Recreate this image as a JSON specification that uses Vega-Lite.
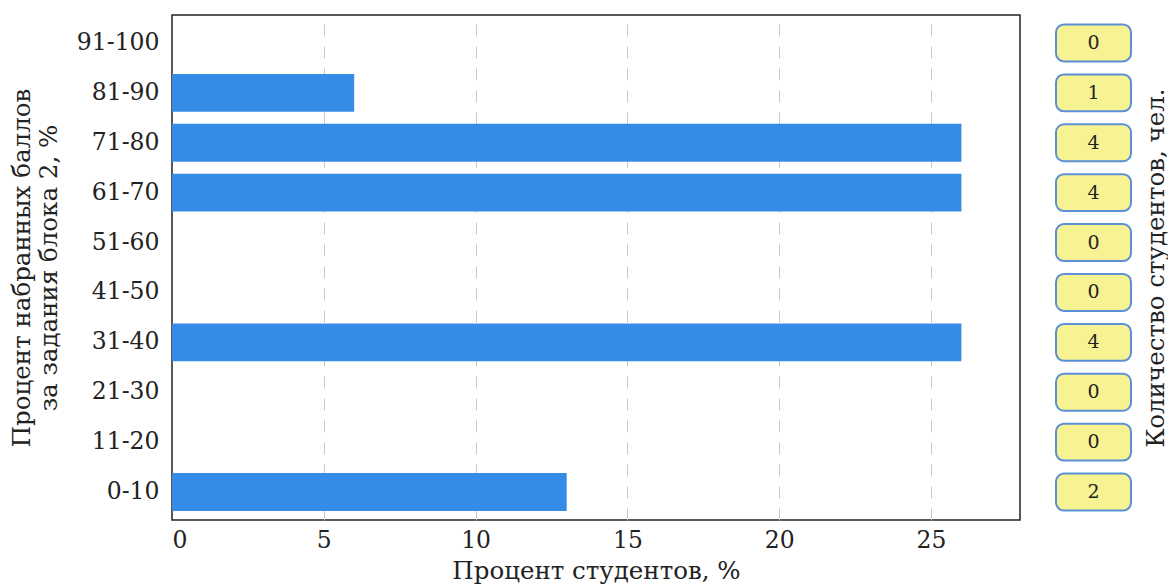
{
  "$schema": "https://vega.github.io/schema/vega-lite/v6.json",
  "autosize": {"type": "pad"},
  "padding": {"left": 8, "top": 14, "right": 0, "bottom": 0},
  "background": "white",
  "config": {
    "font": "DejaVu Serif",
    "view": {"stroke": null},
    "axis": {"labelFont": "DejaVu Serif", "titleFont": "DejaVu Serif", "labelFontSize": 23.5, "titleFontSize": 24.5, "labelColor": "#222", "titleColor": "#222", "titleFontWeight": "normal"}
  },
  "data": {
    "values": [
      {"range": "0-10", "pct": 13, "count": 2},
      {"range": "11-20", "pct": 0, "count": 0},
      {"range": "21-30", "pct": 0, "count": 0},
      {"range": "31-40", "pct": 26, "count": 4},
      {"range": "41-50", "pct": 0, "count": 0},
      {"range": "51-60", "pct": 0, "count": 0},
      {"range": "61-70", "pct": 26, "count": 4},
      {"range": "71-80", "pct": 26, "count": 4},
      {"range": "81-90", "pct": 6, "count": 1},
      {"range": "91-100", "pct": 0, "count": 0}
    ]
  },
  "spacing": 34,
  "resolve": {"scale": {"y": "independent"}},
  "hconcat": [
    {
      "width": 848,
      "height": 505,
      "view": {"stroke": "#222", "strokeWidth": 1.5},
      "layer": [
        {
          "mark": {"type": "bar", "color": "#368be6", "opacity": 0},
          "encoding": {
            "y": {
              "field": "range", "type": "nominal",
              "sort": ["91-100", "81-90", "71-80", "61-70", "51-60", "41-50", "31-40", "21-30", "11-20", "0-10"],
              "scale": {"paddingInner": 0.24, "paddingOuter": 0.18},
              "axis": {"title": ["Процент набранных баллов", "за задания блока 2, %"], "ticks": false, "domain": false, "labelPadding": 13, "titlePadding": 15, "titleLineHeight": 27}
            },
            "x": {
              "field": "pct", "type": "quantitative",
              "scale": {"domain": [0, 27.93], "nice": false},
              "axis": {"title": "Процент студентов, %", "values": [0, 5, 10, 15, 20, 25], "ticks": false, "domain": false, "labelPadding": 8, "titlePadding": 8, "grid": true, "gridColor": "#c8c8c8", "gridDash": [12, 10], "gridWidth": 1, "gridOpacity": {"condition": {"test": "datum.value === 0", "value": 0}, "value": 1}}
            }
          }
        },
        {
          "transform": [{"filter": "datum.pct > 0"}],
          "mark": {"type": "bar", "color": "#368be6"},
          "encoding": {
            "y": {
              "field": "range", "type": "nominal",
              "sort": ["91-100", "81-90", "71-80", "61-70", "51-60", "41-50", "31-40", "21-30", "11-20", "0-10"]
            },
            "x": {"field": "pct", "type": "quantitative"}
          }
        }
      ]
    },
    {
      "width": 75,
      "height": 505,
      "layer": [
        {
          "mark": {"type": "bar", "fill": "#f8f392", "stroke": "#5b90d6", "strokeWidth": 2, "cornerRadius": 8},
          "encoding": {
            "y": {
              "field": "range", "type": "nominal",
              "sort": ["91-100", "81-90", "71-80", "61-70", "51-60", "41-50", "31-40", "21-30", "11-20", "0-10"],
              "scale": {"paddingInner": 0.26, "paddingOuter": 0.19},
              "axis": {"orient": "right", "title": "Количество студентов, чел.", "titleAngle": 270, "titleBaseline": "top", "labels": false, "ticks": false, "domain": false, "titlePadding": 13}
            }
          }
        },
        {
          "mark": {"type": "text", "fontSize": 19, "font": "DejaVu Serif", "color": "#222", "baseline": "middle"},
          "encoding": {
            "y": {
              "field": "range", "type": "nominal",
              "sort": ["91-100", "81-90", "71-80", "61-70", "51-60", "41-50", "31-40", "21-30", "11-20", "0-10"]
            },
            "text": {"field": "count", "type": "quantitative"}
          }
        }
      ]
    }
  ]
}
